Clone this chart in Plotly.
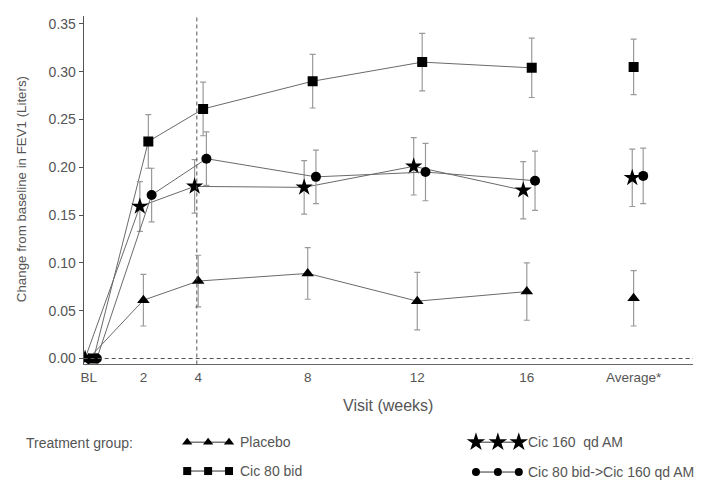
import plotly.graph_objects as go

# ---- data: change from baseline in FEV1 (L), mean and error ----
visits = [0, 2, 4, 8, 12, 16]
avg_pos = 19.9
tick_vals = [0, 2, 4, 8, 12, 16, avg_pos]
tick_text = ["BL", "2", "4", "8", "12", "16", "Average*"]

placebo = [0, 0.061, 0.081, 0.089, 0.060, 0.070]
placebo_err = [0, 0.027, 0.027, 0.027, 0.030, 0.030]
placebo_avg, placebo_avg_err = 0.063, 0.029

cic80 = [0, 0.227, 0.261, 0.290, 0.310, 0.304]
cic80_err = [0, 0.028, 0.028, 0.028, 0.030, 0.031]
cic80_avg, cic80_avg_err = 0.305, 0.029

cic160 = [0, 0.159, 0.180, 0.179, 0.201, 0.176]
cic160_err = [0, 0.026, 0.028, 0.028, 0.030, 0.030]
cic160_avg, cic160_avg_err = 0.189, 0.030

switch = [0, 0.171, 0.209, 0.190, 0.195, 0.186]
switch_err = [0, 0.028, 0.028, 0.028, 0.030, 0.031]
switch_avg, switch_avg_err = 0.191, 0.029

W, H = 702, 483
FONT = "Liberation Sans, Arial, sans-serif"
TXT = "#555555"
LINE = "#6a6a6a"
ERR = "#9a9a9a"

# plot area in pixels
L, R, T, B = 81, 693, 16, 366

series = [
    # name, values, errors, avg, avg err, symbol, size, dodge, avg dodge
    ("Placebo", placebo, placebo_err, placebo_avg, placebo_avg_err, "triangle-up", 11, 0.0, 0.0),
    ("Cic 80 bid", cic80, cic80_err, cic80_avg, cic80_avg_err, "square", 10, 0.18, 0.0),
    ("Cic 160  qd AM", cic160, cic160_err, cic160_avg, cic160_avg_err, "star", 13, -0.13, -0.05),
    ("Cic 80 bid->Cic 160 qd AM", switch, switch_err, switch_avg, switch_avg_err, "circle", 10, 0.3, 0.35),
]

fig = go.Figure()

for name, vals, errs, avg, aerr, sym, size, dx, adx in series:
    fig.add_trace(go.Scatter(
        x=[v + dx for v in visits], y=vals, mode="lines+markers", name=name,
        line=dict(color=LINE, width=1),
        marker=dict(symbol=sym, size=size, color="black", line=dict(width=0)),
        error_y=dict(type="data", array=errs, color=ERR, thickness=1.2, width=3),
        showlegend=False, xaxis="x", yaxis="y",
    ))
    fig.add_trace(go.Scatter(
        x=[avg_pos + adx], y=[avg], mode="markers", name=name,
        marker=dict(symbol=sym, size=size, color="black", line=dict(width=0)),
        error_y=dict(type="data", array=[aerr], color=ERR, thickness=1.2, width=3),
        showlegend=False, xaxis="x", yaxis="y",
    ))

# legend key: three symbols joined by a line, drawn on a pixel overlay axis
legend_rows = [
    ("triangle-up", 9, [185, 206, 227], 444, 236, "Placebo"),
    ("square", 8, [185, 206, 227], 473, 236, "Cic 80 bid"),
    ("star", 14, [475, 497, 518], 444, 525, "Cic 160  qd AM"),
    ("circle", 8, [475, 497, 518], 474, 525, "Cic 80 bid->Cic 160 qd AM"),
]
annotations = []
for sym, size, xs, y, tx, label in legend_rows:
    fig.add_trace(go.Scatter(
        x=xs, y=[y] * len(xs), mode="lines+markers",
        line=dict(color="#333333", width=1),
        marker=dict(symbol=sym, size=size, color="black", line=dict(width=0)),
        showlegend=False, hoverinfo="skip", xaxis="x2", yaxis="y2",
    ))
    annotations.append(dict(x=tx / W, y=1 - y / H, xref="paper", yref="paper",
                            text=label, showarrow=False, xanchor="left", yanchor="middle",
                            font=dict(family=FONT, size=14, color=TXT)))

annotations.append(dict(x=21 / W, y=1 - 445 / H, xref="paper", yref="paper",
                        text="Treatment group:", showarrow=False, xanchor="left", yanchor="middle",
                        font=dict(family=FONT, size=14, color=TXT)))
annotations.append(dict(x=(L + R) / 2 / W, y=1 - 407 / H, xref="paper", yref="paper",
                        text="Visit (weeks)", showarrow=False, xanchor="center", yanchor="middle",
                        font=dict(family=FONT, size=16, color=TXT)))
annotations.append(dict(x=18 / W, y=1 - 190 / H, xref="paper", yref="paper",
                        text="Change from baseline in FEV1 (Liters)", textangle=-90,
                        showarrow=False, xanchor="center", yanchor="middle",
                        font=dict(family=FONT, size=13.3, color=TXT)))

y_lo, y_hi = -0.00625, 0.3583
x_lo, x_hi = -0.182, 22.07

shapes = [
    dict(type="line", xref="x", yref="y", x0=x_lo, x1=x_hi, y0=0, y1=0,
         line=dict(color="#555555", width=1, dash="4px,3px")),
    dict(type="line", xref="x", yref="y", x0=3.95, x1=3.95, y0=y_lo, y1=y_hi,
         line=dict(color="#555555", width=1, dash="4px,3px")),
]

fig.update_layout(
    width=W, height=H,
    margin=dict(l=0, r=0, t=0, b=0),
    paper_bgcolor="white", plot_bgcolor="rgba(0,0,0,0)",
    font=dict(family=FONT, size=13, color=TXT),
    xaxis=dict(domain=[L / W, R / W], range=[x_lo, x_hi], tickmode="array",
               tickvals=tick_vals, ticktext=tick_text, showgrid=False, zeroline=False,
               showline=True, linecolor="#666666", linewidth=1, ticks="",
               tickfont=dict(family=FONT, size=13.5, color=TXT), anchor="y"),
    yaxis=dict(domain=[1 - B / H, 1 - T / H], range=[y_lo, y_hi], tickmode="array",
               tickvals=[0, 0.05, 0.10, 0.15, 0.20, 0.25, 0.30, 0.35],
               ticktext=["0.00", "0.05", "0.10", "0.15", "0.20", "0.25", "0.30", "0.35"],
               showgrid=False, zeroline=False, showline=True, linecolor="#555555",
               linewidth=1, ticks="outside", ticklen=4, tickcolor="#555555",
               tickfont=dict(family=FONT, size=14, color=TXT), anchor="x"),
    xaxis2=dict(domain=[0, 1], range=[0, W], visible=False, anchor="y2", fixedrange=True),
    yaxis2=dict(domain=[0, 1], range=[H, 0], visible=False, anchor="x2", fixedrange=True),
    annotations=annotations,
    shapes=shapes,
    showlegend=False,
)

fig.write_html("out.html")
